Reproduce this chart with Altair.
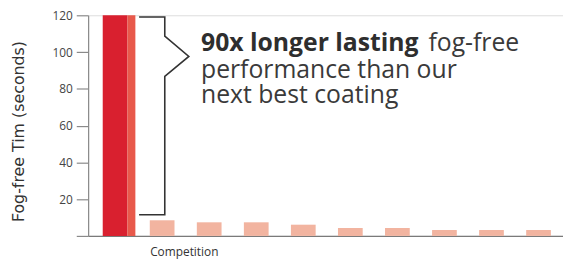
import altair as alt
import pandas as pd

# ---- data ----
bar_index = [0, 1, 2, 3, 4, 5, 6, 7, 8, 9]
bar_group = ["Ours", "Competition", "Competition", "Competition", "Competition",
             "Competition", "Competition", "Competition", "Competition", "Competition"]
bar_values = [120, 8.5, 7.4, 7.4, 6.1, 4.3, 4.3, 3.2, 3.2, 3.2]

y_ticks = [0, 20, 40, 60, 80, 100, 120]

bracket_x = [0.51, 1.056, 1.056, 1.567, 1.056, 1.056, 0.51]
bracket_y = [119.1, 119.1, 108.7, 97.6, 86.8, 11.5, 11.5]

note_lines = ["90x longer lasting", "fog-free", "performance than our", "next best coating"]
note_x = [1.826, 6.66, 1.826, 1.826]
note_y = [100.6, 100.6, 85.7, 72.4]
note_weight = ["bold", "normal", "normal", "normal"]

FONT = "Open Sans"

bars = pd.DataFrame({"i": bar_index, "group": bar_group, "value": bar_values})
bracket = pd.DataFrame({"i": bracket_x, "value": bracket_y, "o": list(range(len(bracket_x)))})
notes = pd.DataFrame({"t": note_lines, "i": note_x, "value": note_y, "w": note_weight})

xscale = alt.Scale(domain=[-0.573, 9.52], nice=False, zero=False, padding=0)
yscale = alt.Scale(domain=[0, 120], nice=False, padding=0)

x_axis = alt.Axis(labels=False, ticks=False, grid=False, title=None,
                  domainColor="#7a7a7a", domainWidth=1.2)
y_axis = alt.Axis(values=y_ticks, grid=False, tickSize=12, tickColor="#8a8a8a",
                  domainColor="#8a8a8a", domainWidth=1.2, tickWidth=1.2,
                  labelPadding=4, labelFontSize=12, labelColor="#444",
                  labelFont=FONT, labelOverlap=False,
                  labelExpr="datum.value == 0 ? '' : datum.label",
                  title="Fog-free Tim (seconds)", titleFont="DejaVu Sans",
                  titleFontSize=16, titleFontWeight="normal", titleColor="#333",
                  titleAngle=-90, titleX=-70, titleY=117,
                  titleAlign="center", titleBaseline="middle")

X = alt.X("i:Q", scale=xscale, axis=x_axis)
Y = alt.Y("value:Q", scale=yscale, axis=y_axis)

comp = alt.Chart(bars).transform_filter("datum.group == 'Competition'").mark_bar(
    width=25, color="#f2b4a0").encode(x=X, y=Y)

ours_dark = alt.Chart(bars).transform_filter("datum.group == 'Ours'").mark_bar(
    width=25, color="#d9202f").encode(x=X, y=Y)

ours_light = alt.Chart(bars).transform_filter("datum.group == 'Ours'").mark_bar(
    width=8, xOffset=16.5, color="#e8594b").encode(x=X, y=Y)

brk = alt.Chart(bracket).mark_line(color="#333333", strokeWidth=1.6).encode(
    x=X, y=Y, order="o:Q")

note_bold = alt.Chart(notes).transform_filter("datum.w == 'bold'").mark_text(
    align="left", baseline="alphabetic", font=FONT, fontSize=25, fontWeight="bold",
    color="#2e2e2e").encode(x=X, y=Y, text="t:N")

note_norm = alt.Chart(notes).transform_filter("datum.w == 'normal'").mark_text(
    align="left", baseline="alphabetic", font=FONT, fontSize=25, fontWeight="normal",
    color="#3a3a3a").encode(x=X, y=Y, text="t:N")

comp_label = alt.Chart(pd.DataFrame({"t": ["Competition"], "i": [0.745]})).mark_text(
    align="left", baseline="middle", font=FONT, fontSize=12, fontWeight=500,
    color="#333333").encode(x=X, y=alt.value(239), text="t:N")

chart = alt.layer(comp, ours_dark, ours_light, brk, note_bold, note_norm, comp_label).properties(
    width=480, height=223,
    autosize=alt.AutoSizeParams(type="none"),
    padding={"left": 81, "top": 6, "right": 0, "bottom": 25},
).configure_view(stroke=None).configure(background="white")

chart.save("out.html", embed_options={"renderer": "svg", "actions": False})
